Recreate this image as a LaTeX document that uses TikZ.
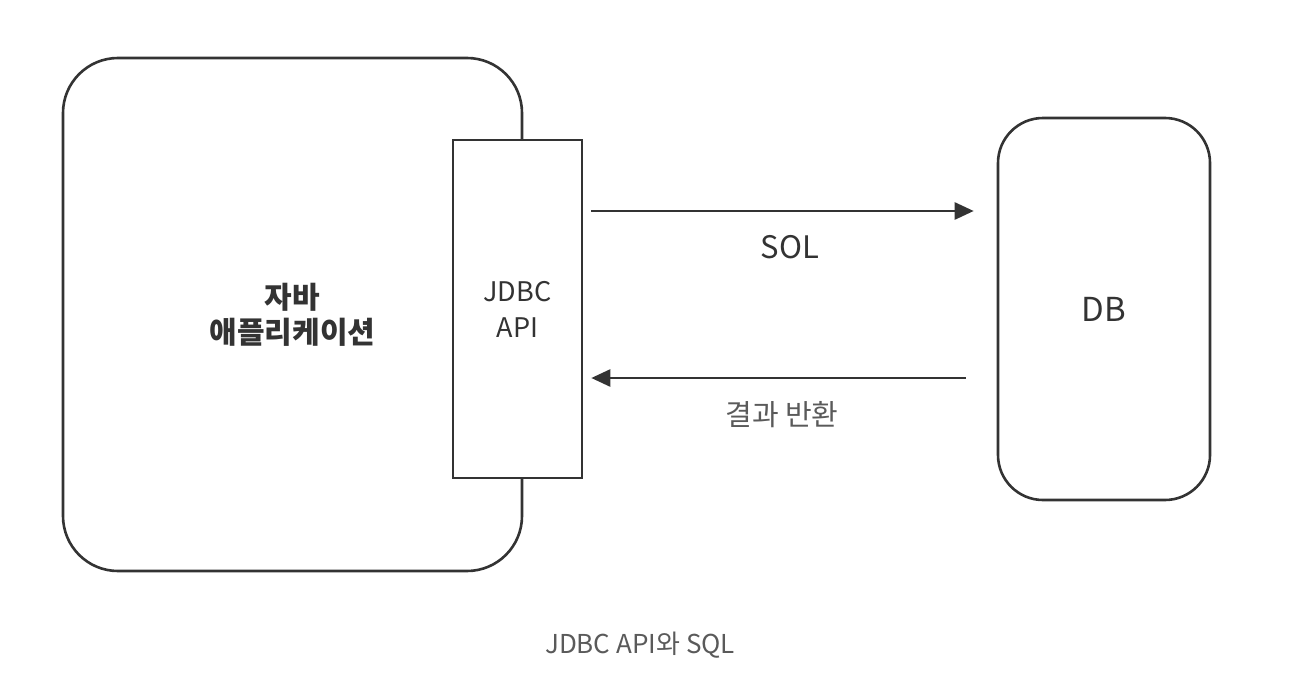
\documentclass[tikz,border=0pt]{standalone}
\usepackage{fontspec}
\setmainfont{Noto Sans CJK KR}
\usepackage{xcolor}
\usetikzlibrary{arrows.meta}

\definecolor{linegray}{HTML}{333333}
\definecolor{capgray}{HTML}{5a5a5a}
\tikzset{
  appbox/.style={draw=linegray, line width=2.6pt, rounded corners=55pt, minimum width=459pt, minimum height=513pt, align=center},
  apibox/.style={draw=linegray, line width=2.6pt, fill=white, minimum width=129pt, minimum height=338pt, align=center},
  dbbox/.style={draw=linegray, line width=2.6pt, rounded corners=45pt, minimum width=212pt, minimum height=382pt},
  flow/.style={draw=linegray, line width=2.6pt, -{Triangle[length=19pt,width=17pt]}}
}

\begin{document}
\begin{tikzpicture}[x=1pt,y=-1pt]
  \useasboundingbox (0,0) rectangle (1308,688);

  \draw (292.5,314.5) node (app) [appbox, text=linegray, font=\fontsize{30}{35}\selectfont\bfseries]
    {자바\\애플리케이션};
  \draw (517.5,309)   node (jdbc) [apibox, text=linegray, font=\fontsize{27}{36}\selectfont]
    {JDBC\\API};
  \draw (1104,309)    node (db) [dbbox, text=linegray, font=\fontsize{33}{38}\selectfont] {DB};

  \draw[flow, shorten <=8pt, shorten >=23pt] ([yshift=98pt]jdbc.east) -- ([yshift=98pt]db.west)
    node (sql) [midway, below=20pt, text=linegray, font=\fontsize{31}{36}\selectfont] {SOL};
  \draw[flow, shorten <=31pt, shorten >=8pt] ([yshift=-69pt]db.west) -- ([yshift=-69pt]jdbc.east)
    node (ret) [midway, below=19pt, xshift=-8pt, text=capgray, font=\fontsize{29}{34}\selectfont] {결과 반환};

  \draw (640,645) node (cap) [text=capgray, font=\fontsize{26}{30}\selectfont] {JDBC API와 SQL};
\end{tikzpicture}
\end{document}
